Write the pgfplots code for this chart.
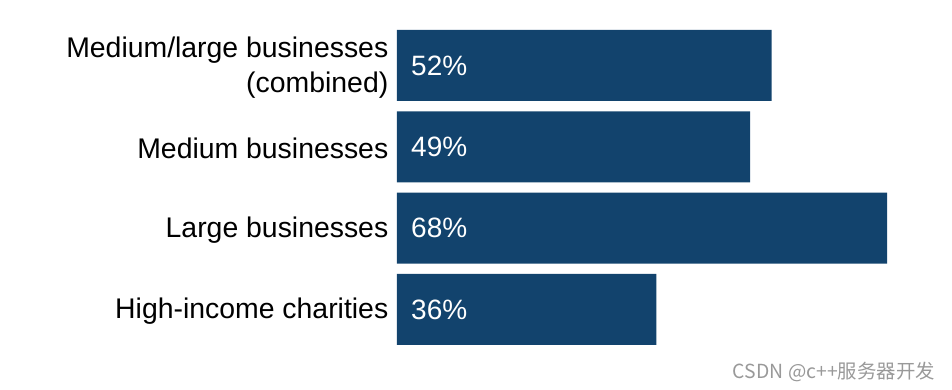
\documentclass[border=0pt]{standalone}
\usepackage{pgfplots}
\usepackage{pgfplotstable}
\pgfplotsset{compat=1.18}
\usepackage{fontspec}
\setmainfont{Liberation Sans}
\newfontfamily\cjk{Noto Sans CJK SC}
\definecolor{barblue}{HTML}{12436D}
\pgfplotstableread{
y value
0 52
1 49
2 68
3 36
}\data
\begin{document}
\begin{tikzpicture}
\begin{axis}[
  at={(0,0)}, anchor=south west,
  scale only axis, width=555bp, height=390bp,
  xmin=0, xmax=77.02, ymin=-0.805, ymax=3.99, y dir=reverse,
  bar width=0.873,
  axis line style={draw=none},
  xtick=\empty, ytick={0,1,2,3},
  yticklabels={{Medium/large businesses\\(combined)}, Medium businesses, Large businesses, High-income charities},
  yticklabel style={align=right, font=\fontsize{28.4bp}{35.5bp}\selectfont, text=black, inner xsep=0pt, xshift=-8.5bp, yshift=-2bp},
  major tick length=0pt,
  clip=false,
  /pgf/number format/assume math mode=true,
]
\addplot[xbar, fill=barblue, draw=none] table[x=value, y=y]{\data};
\addplot[only marks, mark=none, point meta=explicit,
  nodes near coords={\pgfmathprintnumber{\pgfplotspointmeta}\%},
  nodes near coords style={anchor=west, text=white, inner sep=0pt, xshift=14bp, font=\fontsize{28bp}{35bp}\selectfont}]
  table[x expr=0, y=y, meta=value]{\data};
\end{axis}
\node[anchor=east, text=black!40, inner sep=0pt] at (538bp, 18bp) {\fontsize{19.4bp}{22bp}\selectfont\cjk CSDN @c++服务器开发};
\pgfresetboundingbox
\path[use as bounding box] (-397bp,0) rectangle (555bp,390bp);
\end{tikzpicture}
\end{document}
